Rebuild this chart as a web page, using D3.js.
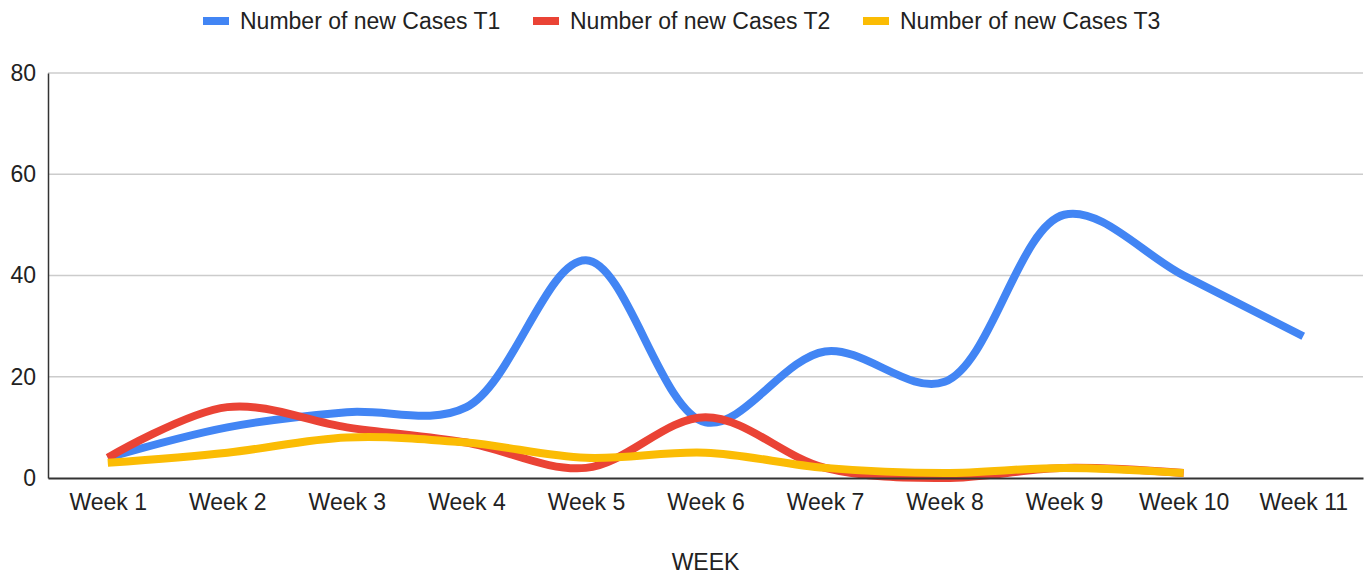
<!DOCTYPE html>
<html>
<head>
<meta charset="utf-8">
<script src="https://cdn.jsdelivr.net/npm/d3@7"></script>
<style>
  body { margin: 0; background: #fff; }
  svg { display: block; font-family: "Liberation Sans", Arial, sans-serif; }
</style>
</head>
<body>
<svg width="1372" height="574"></svg>
<script>
var weeks = ["Week 1", "Week 2", "Week 3", "Week 4", "Week 5", "Week 6", "Week 7", "Week 8", "Week 9", "Week 10", "Week 11"];
var casesT1 = [4, 10, 13, 14, 43, 11, 25, 19, 52, 40, 28];
var casesT2 = [4, 14, 10, 7, 2, 12, 2, 0, 2, 1];
var casesT3 = [3, 5, 8, 7, 4, 5, 2, 1, 2, 1];
var yTicks = [0, 20, 40, 60, 80];

var series = [
    {name: "Number of new Cases T1", values: casesT1, color: "#4285F4"},
    {name: "Number of new Cases T2", values: casesT2, color: "#EA4335"},
    {name: "Number of new Cases T3", values: casesT3, color: "#FBBC04"}
];

var svg = d3.select("svg"),
    margin = {top: 73, right: 9, bottom: 96, left: 48},
    width = +svg.attr("width") - margin.left - margin.right,
    height = +svg.attr("height") - margin.top - margin.bottom,
    g = svg.append("g").attr("transform", "translate(" + margin.left + "," + margin.top + ")");

var x = d3.scalePoint()
    .domain(weeks)
    .range([0, width])
    .padding(0.5);

var y = d3.scaleLinear()
    .domain([0, 80])
    .range([height, 0]);

// gridlines
g.append("g")
    .selectAll("line")
    .data(yTicks.slice(1))
    .enter().append("line")
    .attr("x1", 0)
    .attr("x2", width)
    .attr("y1", function(d) { return y(d); })
    .attr("y2", function(d) { return y(d); })
    .attr("stroke", "#cccccc")
    .attr("stroke-width", 1.5);

// y axis
var yAxis = g.append("g")
    .call(d3.axisLeft(y).tickValues(yTicks).tickSize(0).tickPadding(12));
yAxis.select(".domain").attr("stroke", "#333").attr("stroke-width", 1.5);
yAxis.selectAll("text").attr("font-size", 23).attr("fill", "#222").attr("font-family", "Liberation Sans, Arial, sans-serif");

var line = d3.line()
    .x(function(d, i) { return x(weeks[i]); })
    .y(function(d) { return y(d); })
    .curve(d3.curveCatmullRom);

g.selectAll(".series")
    .data(series)
    .enter().append("path")
    .attr("class", "series")
    .attr("fill", "none")
    .attr("stroke", function(d) { return d.color; })
    .attr("stroke-width", 8)
    .attr("stroke-linejoin", "round")
    .attr("d", function(d) { return line(d.values); });

// x axis
var xAxis = g.append("g")
    .attr("transform", "translate(0," + height + ")")
    .call(d3.axisBottom(x).tickSize(0).tickPadding(16));
xAxis.select(".domain").attr("stroke", "#333").attr("stroke-width", 2);
xAxis.selectAll("text").attr("font-size", 23).attr("fill", "#222").attr("font-family", "Liberation Sans, Arial, sans-serif");

svg.append("text")
    .attr("x", margin.left + width / 2)
    .attr("y", 570)
    .attr("text-anchor", "middle")
    .attr("font-size", 23)
    .attr("fill", "#222")
    .text("WEEK");

// legend
var legendX = [203, 533, 863];
var legend = svg.append("g")
    .selectAll("g")
    .data(series)
    .enter().append("g")
    .attr("transform", function(d, i) { return "translate(" + legendX[i] + ",0)"; });

legend.append("rect")
    .attr("x", 0)
    .attr("y", 17)
    .attr("width", 26)
    .attr("height", 8)
    .attr("fill", function(d) { return d.color; });

legend.append("text")
    .attr("x", 37)
    .attr("y", 29)
    .attr("font-size", 23)
    .attr("fill", "#222")
    .text(function(d) { return d.name; });
</script>
</body>
</html>
